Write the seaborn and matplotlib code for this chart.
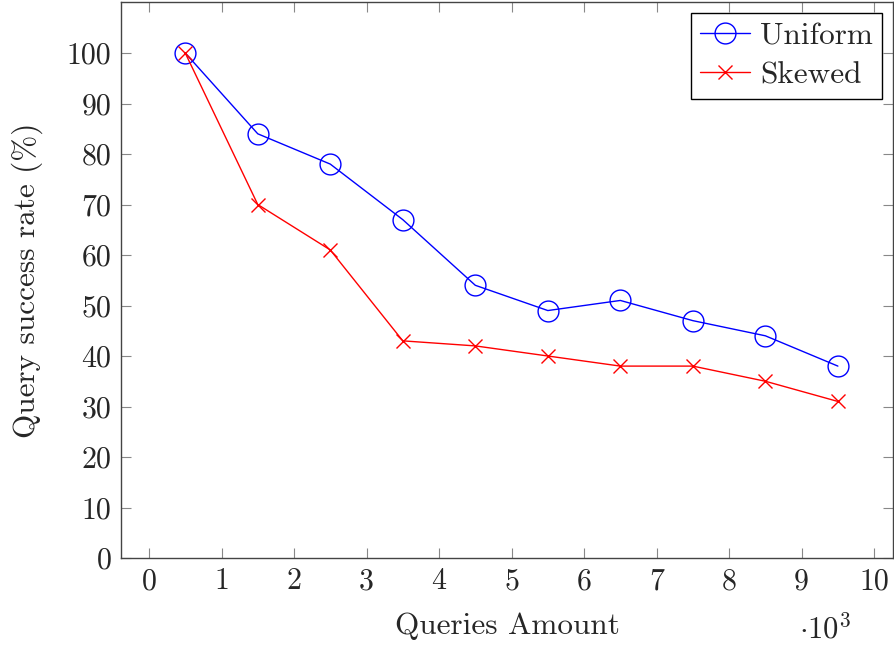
import matplotlib
matplotlib.use("Agg")
import matplotlib.pyplot as plt
import seaborn as sns
import pandas as pd

queries = [0.5, 1.5, 2.5, 3.5, 4.5, 5.5, 6.5, 7.5, 8.5, 9.5]
uniform = [100, 84, 78, 67, 54, 49, 51, 47, 44, 38]
skewed = [100, 70, 61, 43, 42, 40, 38, 38, 35, 31]
xticks = list(range(0, 11))
yticks = list(range(0, 101, 10))

sns.set_theme(style="ticks")
plt.rcParams['font.family'] = ['cmr10', 'DejaVu Serif']
plt.rcParams['mathtext.fontset'] = 'cm'
plt.rcParams['axes.formatter.use_mathtext'] = True

df = pd.DataFrame({
    "x": queries * 2,
    "y": uniform + skewed,
    "series": ["Uniform"] * len(queries) + ["Skewed"] * len(queries),
})

fig = plt.figure(figsize=(8.94, 6.46), dpi=100)
ax = fig.add_axes([121/894, 1-558/646, (893-121)/894, (558-2)/646])

sns.lineplot(data=df[df.series == "Uniform"], x="x", y="y", ax=ax, color="blue",
             marker="o", markersize=15, markerfacecolor="none", markeredgecolor="blue",
             markeredgewidth=1.0, linewidth=1.0, label="Uniform")
sns.lineplot(data=df[df.series == "Skewed"], x="x", y="y", ax=ax, color="red",
             marker="x", markersize=10, markeredgecolor="red",
             markeredgewidth=1.0, linewidth=1.0, label="Skewed")

ax.set_xlim(-0.386, 10.26)
ax.set_ylim(0, 110.1)
ax.set_xticks(xticks)
ax.set_yticks(yticks)
ax.set_xticklabels([str(t) for t in xticks])
ax.set_yticklabels([str(t) for t in yticks])
ax.tick_params(direction="in", length=7, width=0.8, color="#888888",
               top=True, right=True, labelsize=21.5, pad=7)
for s in ax.spines.values():
    s.set_color("#444444")
    s.set_linewidth(1.0)

ax.set_xlabel("Queries Amount", fontsize=22.5, labelpad=12)
ax.set_ylabel("Query success rate (%)", fontsize=22.5, labelpad=17)
ax.text(0.912, -0.128, r"$\cdot 10^3$", transform=ax.transAxes, fontsize=22,
        ha="center", va="center")

leg = ax.legend(loc="upper right", fontsize=22.5, frameon=True, fancybox=False,
                edgecolor="black", framealpha=1, borderaxespad=0.35,
                handlelength=1.6, borderpad=0.3, labelspacing=0.35, handletextpad=0.3)
leg.get_frame().set_linewidth(1.0)

fig.savefig("out.png", dpi=100)
